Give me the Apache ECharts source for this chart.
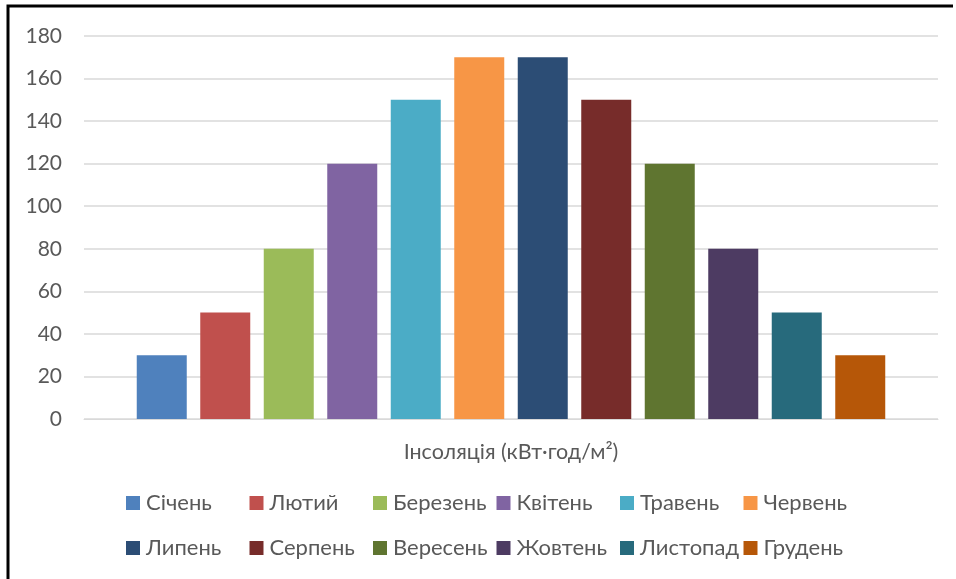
<!DOCTYPE html>
<html>
<head>
<meta charset="utf-8">
<script src="https://cdn.jsdelivr.net/npm/echarts@6/dist/echarts.min.js"></script>
<style>
  html, body { margin: 0; padding: 0; background: #fff; }
  #chart { width: 956px; height: 579px; }
</style>
</head>
<body>
<div id="chart"></div>
<script>
// Monthly insolation, kWh/m²
const category = ['Інсоляція (кВт·год/м²)'];
const months = ['Січень', 'Лютий', 'Березень', 'Квітень', 'Травень', 'Червень',
                'Липень', 'Серпень', 'Вересень', 'Жовтень', 'Листопад', 'Грудень'];
const values = [30, 50, 80, 120, 150, 170, 170, 150, 120, 80, 50, 30];
const colors = ['#4F81BD', '#C0504D', '#9BBB59', '#8064A2', '#4BACC6', '#F79646',
                '#2C4D75', '#772C2A', '#5F7530', '#4D3B62', '#276A7C', '#B65708'];
const yTicks = { min: 0, max: 180, interval: 20 };

const FONT = 'Lato';
const TEXT = '#595959';

const chart = echarts.init(document.getElementById('chart'));

const series = months.map((m, i) => ({
  name: m,
  type: 'bar',
  data: [values[i]],
  barWidth: 50,
  barGap: '27%',
  itemStyle: { color: colors[i] }
}));

// Legend laid out as a 6 x 2 grid of fixed-width cells
const legendColX = [126, 249.5, 373, 496.5, 620, 743.5];
const legendRowY = [492, 537];
const legends = months.map((m, i) => ({
  data: [m],
  left: legendColX[i % 6],
  top: legendRowY[Math.floor(i / 6)],
  padding: 0,
  icon: 'rect',
  itemWidth: 14,
  itemHeight: 14,
  selectedMode: false,
  textStyle: { color: TEXT, fontFamily: FONT, fontSize: 22, padding: [0, 0, 0, 1] }
}));

chart.setOption({
  animation: false,
  color: colors,
  grid: { left: 84, right: 18, top: 36, bottom: 160, containLabel: false },
  xAxis: {
    type: 'category',
    data: category,
    axisLine: { show: true, lineStyle: { color: '#D9D9D9', width: 1 } },
    axisTick: { show: false },
    axisLabel: { color: TEXT, fontFamily: FONT, fontSize: 21.5, margin: 22 }
  },
  yAxis: {
    type: 'value',
    min: yTicks.min,
    max: yTicks.max,
    interval: yTicks.interval,
    axisLine: { show: false },
    axisTick: { show: false },
    splitLine: { lineStyle: { color: '#D9D9D9', width: 1.5 } },
    axisLabel: { color: TEXT, fontFamily: FONT, fontSize: 21, margin: 22 }
  },
  legend: legends,
  graphic: [{
    type: 'polyline',
    shape: { points: [[8, 579], [8, 6], [953, 6]] },
    style: { stroke: '#000', lineWidth: 3, fill: null }
  }],
  series: series
});
</script>
</body>
</html>
